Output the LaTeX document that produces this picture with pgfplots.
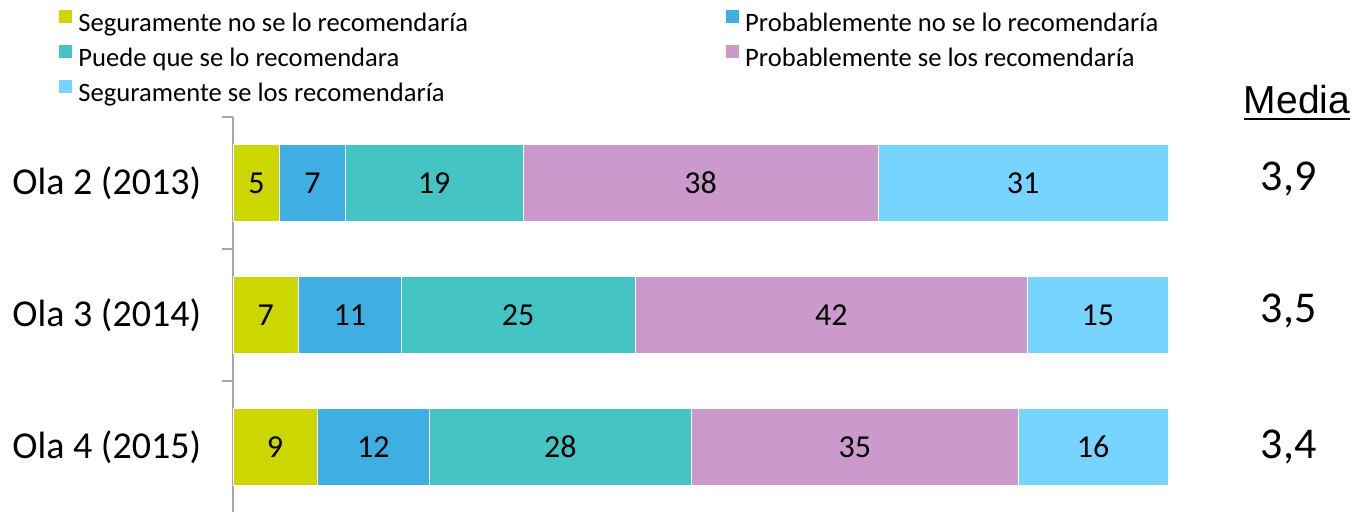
\documentclass[border=0pt]{standalone}
\usepackage{pgfplots}
\pgfplotsset{compat=1.18}
\usepackage{fontspec}
\setmainfont{Carlito}
\newfontfamily\arialfont{Liberation Sans}
\definecolor{c1}{HTML}{CCD600}
\definecolor{c2}{HTML}{3FAFE3}
\definecolor{c3}{HTML}{45C4C4}
\definecolor{c4}{HTML}{CC99CC}
\definecolor{c5}{HTML}{77D4FF}
\definecolor{axisgray}{HTML}{A6A6A6}
\newcommand\ulmedia{\setbox0\hbox{Media}\rlap{\copy0}\rule[-3.7pt]{\wd0}{1.4pt}}

\begin{document}
\begin{tikzpicture}
\useasboundingbox (0,0) rectangle (680pt,-256pt);
\begin{axis}[
    at={(116.5pt,-256.5pt)}, anchor=south west,
    scale only axis, width=467.5pt, height=198pt,
    xbar stacked, bar width=0.583,
    xmin=0, xmax=100, ymin=0, ymax=3,
    axis x line=none, axis y line*=left,
    y axis line style={draw=axisgray, line width=1pt},
    ytick={0.5,1.5,2.5},
    yticklabels={Ola 4 (2015),Ola 3 (2014),Ola 2 (2013)},
    minor ytick={0,1,2,3},
    major tick length=0pt, minor tick length=5.5pt,
    tick align=outside,
    minor tick style={draw=axisgray, line width=1pt},
    yticklabel style={font=\fontsize{19}{22}\selectfont, inner sep=0pt, xshift=-15.75pt},
    clip=false,
    /pgf/number format/assume math mode=true,
    point meta=explicit,
    nodes near coords,
    every node near coord/.append style={anchor=center, text=black,
        font=\fontsize{16}{19}\selectfont},
    legend columns=2,
    legend cell align=left,
    legend style={at={(-0.1857,1.2694)}, anchor=north west, draw=none, fill=none,
        inner sep=0pt, outer sep=0pt,
        font=\fontsize{13.3}{16}\selectfont, row sep=3pt,
        nodes={inner sep=0pt, text height=9.5pt, text depth=3.5pt},
        /tikz/every odd column/.append style={column sep=3pt},
        /tikz/every even column/.append style={column sep=129pt}},
    legend image code/.code={\fill[#1,draw=none] (0pt,1.3pt) rectangle (6.5pt,7.8pt);},
]
\addplot[fill=c1, draw=white, line width=0.3pt] coordinates {(5,2.5)[5] (7,1.5)[7] (9,0.5)[9]};
\addplot[fill=c2, draw=white, line width=0.3pt] coordinates {(7,2.5)[7] (11,1.5)[11] (12,0.5)[12]};
\addplot[fill=c3, draw=white, line width=0.3pt] coordinates {(19,2.5)[19] (25,1.5)[25] (28,0.5)[28]};
\addplot[fill=c4, draw=white, line width=0.3pt] coordinates {(38,2.5)[38] (42,1.5)[42] (35,0.5)[35]};
\addplot[fill=c5, draw=white, line width=0.3pt] coordinates {(31,2.5)[31] (15,1.5)[15] (16,0.5)[16]};
\legend{Seguramente no se lo recomendaría, Probablemente no se lo recomendaría,
        Puede que se lo recomendara, Probablemente se los recomendaría,
        Seguramente se los recomendaría}

\node[font=\fontsize{22}{26}\selectfont, yshift=2pt] at (axis cs:112.9,2.5) {3,9};
\node[font=\fontsize{22}{26}\selectfont, yshift=2pt] at (axis cs:112.9,1.5) {3,5};
\node[font=\fontsize{22}{26}\selectfont] at (axis cs:112.9,0.5) {3,4};
\node[font=\arialfont\fontsize{19.5}{23}\selectfont, inner sep=0pt, anchor=base]
    at (axis cs:113.8,3.03) {\ulmedia};
\end{axis}
\end{tikzpicture}
\end{document}
